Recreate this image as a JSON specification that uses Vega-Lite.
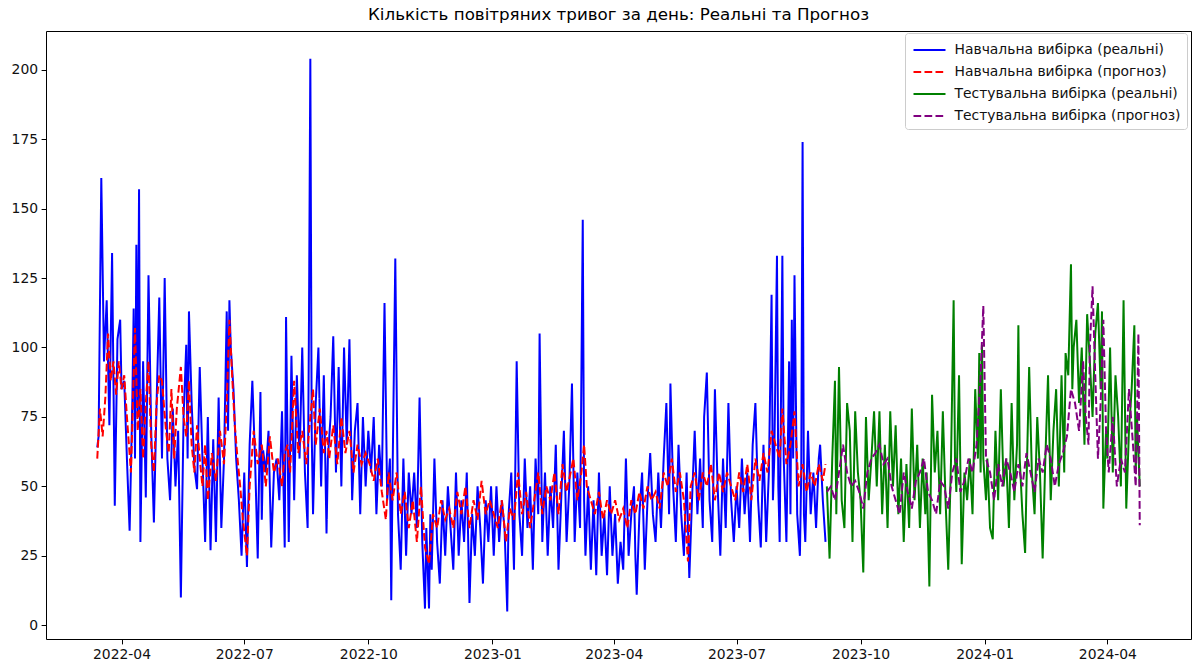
{
"$schema":"https://vega.github.io/schema/vega-lite/v6.json",
"width":1145,"height":608,
"autosize":{"type":"none"},
"padding":{"left":46,"top":31,"right":1,"bottom":27},
"title":{"text":"Кількість повітряних тривог за день: Реальні та Прогноз","font":"DejaVu Sans","fontSize":16.7,"fontWeight":"normal","color":"#000","anchor":"middle","offset":7},
"config":{"view":{"stroke":"#000","strokeWidth":1},
"axis":{"labelFont":"DejaVu Sans","labelFontSize":13.9,"labelColor":"#111","tickColor":"#000","tickSize":4.9,"tickWidth":1,"domain":false,"grid":false,"labelPadding":3.5,"title":null},
"legend":{"orient":"none","legendX":859,"legendY":2,"title":null,"symbolType":"M-1.6,0H1.6","symbolSize":400,"symbolStrokeWidth":2,"symbolOffset":7.5,"labelOffset":14,"labelLimit":400,"labelFont":"DejaVu Sans","labelFontSize":13.9,"labelColor":"#111","padding":6,"strokeColor":"#cccccc","fillColor":"#ffffff","cornerRadius":3,"rowPadding":4}},
"data":{"values":[
{"d":"2022-03-14","v":64,"s":"A"},{"d":"2022-03-15","v":68,"s":"A"},{"d":"2022-03-17","v":161,"s":"A"},{"d":"2022-03-19","v":95,"s":"A"},{"d":"2022-03-21","v":117,"s":"A"},{"d":"2022-03-23","v":72,"s":"A"},{"d":"2022-03-25","v":134,"s":"A"},{"d":"2022-03-27","v":43,"s":"A"},{"d":"2022-03-29","v":103,"s":"A"},{"d":"2022-03-31","v":110,"s":"A"},
{"d":"2022-04-01","v":85,"s":"A"},{"d":"2022-04-03","v":88,"s":"A"},{"d":"2022-04-05","v":60,"s":"A"},{"d":"2022-04-07","v":34,"s":"A"},{"d":"2022-04-09","v":80,"s":"A"},{"d":"2022-04-10","v":114,"s":"A"},{"d":"2022-04-11","v":60,"s":"A"},{"d":"2022-04-12","v":137,"s":"A"},{"d":"2022-04-13","v":75,"s":"A"},{"d":"2022-04-14","v":157,"s":"A"},{"d":"2022-04-15","v":30,"s":"A"},{"d":"2022-04-17","v":95,"s":"A"},{"d":"2022-04-19","v":46,"s":"A"},{"d":"2022-04-21","v":126,"s":"A"},{"d":"2022-04-23","v":70,"s":"A"},{"d":"2022-04-25","v":37,"s":"A"},{"d":"2022-04-27","v":80,"s":"A"},{"d":"2022-04-29","v":118,"s":"A"},
{"d":"2022-05-01","v":60,"s":"A"},{"d":"2022-05-03","v":125,"s":"A"},{"d":"2022-05-05","v":60,"s":"A"},{"d":"2022-05-07","v":45,"s":"A"},{"d":"2022-05-09","v":78,"s":"A"},{"d":"2022-05-11","v":50,"s":"A"},{"d":"2022-05-13","v":70,"s":"A"},{"d":"2022-05-15","v":10,"s":"A"},{"d":"2022-05-17","v":75,"s":"A"},{"d":"2022-05-19","v":101,"s":"A"},{"d":"2022-05-20","v":60,"s":"A"},{"d":"2022-05-21","v":113,"s":"A"},{"d":"2022-05-23","v":80,"s":"A"},{"d":"2022-05-25","v":57,"s":"A"},{"d":"2022-05-27","v":49,"s":"A"},{"d":"2022-05-29","v":93,"s":"A"},{"d":"2022-05-31","v":60,"s":"A"},
{"d":"2022-06-02","v":30,"s":"A"},{"d":"2022-06-04","v":75,"s":"A"},{"d":"2022-06-06","v":27,"s":"A"},{"d":"2022-06-08","v":67,"s":"A"},{"d":"2022-06-10","v":30,"s":"A"},{"d":"2022-06-12","v":82,"s":"A"},{"d":"2022-06-14","v":35,"s":"A"},{"d":"2022-06-16","v":60,"s":"A"},{"d":"2022-06-18","v":113,"s":"A"},{"d":"2022-06-19","v":70,"s":"A"},{"d":"2022-06-20","v":117,"s":"A"},{"d":"2022-06-21","v":100,"s":"A"},{"d":"2022-06-23","v":85,"s":"A"},{"d":"2022-06-25","v":60,"s":"A"},{"d":"2022-06-27","v":45,"s":"A"},{"d":"2022-06-29","v":25,"s":"A"},
{"d":"2022-07-01","v":55,"s":"A"},{"d":"2022-07-03","v":21,"s":"A"},{"d":"2022-07-05","v":65,"s":"A"},{"d":"2022-07-07","v":88,"s":"A"},{"d":"2022-07-09","v":60,"s":"A"},{"d":"2022-07-11","v":24,"s":"A"},{"d":"2022-07-13","v":84,"s":"A"},{"d":"2022-07-14","v":38,"s":"A"},{"d":"2022-07-15","v":63,"s":"A"},{"d":"2022-07-17","v":55,"s":"A"},{"d":"2022-07-19","v":70,"s":"A"},{"d":"2022-07-21","v":28,"s":"A"},{"d":"2022-07-23","v":55,"s":"A"},{"d":"2022-07-25","v":60,"s":"A"},{"d":"2022-07-27","v":45,"s":"A"},{"d":"2022-07-29","v":77,"s":"A"},{"d":"2022-07-31","v":28,"s":"A"},
{"d":"2022-08-01","v":111,"s":"A"},{"d":"2022-08-03","v":30,"s":"A"},{"d":"2022-08-05","v":97,"s":"A"},{"d":"2022-08-07","v":45,"s":"A"},{"d":"2022-08-09","v":90,"s":"A"},{"d":"2022-08-11","v":60,"s":"A"},{"d":"2022-08-13","v":100,"s":"A"},{"d":"2022-08-15","v":55,"s":"A"},{"d":"2022-08-17","v":35,"s":"A"},{"d":"2022-08-18","v":110,"s":"A"},{"d":"2022-08-19","v":204,"s":"A"},{"d":"2022-08-20","v":70,"s":"A"},{"d":"2022-08-21","v":40,"s":"A"},{"d":"2022-08-23","v":80,"s":"A"},{"d":"2022-08-25","v":100,"s":"A"},{"d":"2022-08-27","v":50,"s":"A"},{"d":"2022-08-29","v":90,"s":"A"},{"d":"2022-08-31","v":33,"s":"A"},
{"d":"2022-09-01","v":60,"s":"A"},{"d":"2022-09-03","v":75,"s":"A"},{"d":"2022-09-05","v":104,"s":"A"},{"d":"2022-09-07","v":55,"s":"A"},{"d":"2022-09-09","v":93,"s":"A"},{"d":"2022-09-11","v":50,"s":"A"},{"d":"2022-09-13","v":100,"s":"A"},{"d":"2022-09-15","v":65,"s":"A"},{"d":"2022-09-17","v":103,"s":"A"},{"d":"2022-09-19","v":45,"s":"A"},{"d":"2022-09-21","v":70,"s":"A"},{"d":"2022-09-23","v":80,"s":"A"},{"d":"2022-09-25","v":40,"s":"A"},{"d":"2022-09-27","v":75,"s":"A"},{"d":"2022-09-29","v":50,"s":"A"},
{"d":"2022-10-01","v":70,"s":"A"},{"d":"2022-10-03","v":55,"s":"A"},{"d":"2022-10-05","v":75,"s":"A"},{"d":"2022-10-07","v":40,"s":"A"},{"d":"2022-10-09","v":65,"s":"A"},{"d":"2022-10-11","v":50,"s":"A"},{"d":"2022-10-13","v":116,"s":"A"},{"d":"2022-10-15","v":45,"s":"A"},{"d":"2022-10-17","v":60,"s":"A"},{"d":"2022-10-18","v":9,"s":"A"},{"d":"2022-10-19","v":55,"s":"A"},{"d":"2022-10-21","v":132,"s":"A"},{"d":"2022-10-23","v":40,"s":"A"},{"d":"2022-10-25","v":20,"s":"A"},{"d":"2022-10-27","v":60,"s":"A"},{"d":"2022-10-29","v":25,"s":"A"},{"d":"2022-10-31","v":55,"s":"A"},
{"d":"2022-11-02","v":40,"s":"A"},{"d":"2022-11-04","v":55,"s":"A"},{"d":"2022-11-06","v":35,"s":"A"},{"d":"2022-11-08","v":82,"s":"A"},{"d":"2022-11-10","v":30,"s":"A"},{"d":"2022-11-12","v":6,"s":"A"},{"d":"2022-11-13","v":35,"s":"A"},{"d":"2022-11-15","v":6,"s":"A"},{"d":"2022-11-16","v":40,"s":"A"},{"d":"2022-11-17","v":20,"s":"A"},{"d":"2022-11-19","v":60,"s":"A"},{"d":"2022-11-21","v":30,"s":"A"},{"d":"2022-11-23","v":15,"s":"A"},{"d":"2022-11-25","v":45,"s":"A"},{"d":"2022-11-27","v":25,"s":"A"},{"d":"2022-11-29","v":50,"s":"A"},
{"d":"2022-12-01","v":35,"s":"A"},{"d":"2022-12-03","v":20,"s":"A"},{"d":"2022-12-05","v":55,"s":"A"},{"d":"2022-12-07","v":25,"s":"A"},{"d":"2022-12-09","v":45,"s":"A"},{"d":"2022-12-11","v":30,"s":"A"},{"d":"2022-12-13","v":55,"s":"A"},{"d":"2022-12-15","v":8,"s":"A"},{"d":"2022-12-17","v":40,"s":"A"},{"d":"2022-12-19","v":25,"s":"A"},{"d":"2022-12-21","v":50,"s":"A"},{"d":"2022-12-23","v":35,"s":"A"},{"d":"2022-12-25","v":15,"s":"A"},{"d":"2022-12-27","v":45,"s":"A"},{"d":"2022-12-29","v":30,"s":"A"},{"d":"2022-12-31","v":50,"s":"A"},
{"d":"2023-01-02","v":25,"s":"A"},{"d":"2023-01-04","v":50,"s":"A"},{"d":"2023-01-06","v":30,"s":"A"},{"d":"2023-01-08","v":45,"s":"A"},{"d":"2023-01-10","v":35,"s":"A"},{"d":"2023-01-12","v":5,"s":"A"},{"d":"2023-01-13","v":40,"s":"A"},{"d":"2023-01-15","v":55,"s":"A"},{"d":"2023-01-17","v":20,"s":"A"},{"d":"2023-01-19","v":95,"s":"A"},{"d":"2023-01-21","v":40,"s":"A"},{"d":"2023-01-23","v":25,"s":"A"},{"d":"2023-01-25","v":60,"s":"A"},{"d":"2023-01-27","v":35,"s":"A"},{"d":"2023-01-29","v":50,"s":"A"},{"d":"2023-01-31","v":20,"s":"A"},
{"d":"2023-02-02","v":60,"s":"A"},{"d":"2023-02-04","v":40,"s":"A"},{"d":"2023-02-05","v":105,"s":"A"},{"d":"2023-02-07","v":30,"s":"A"},{"d":"2023-02-09","v":55,"s":"A"},{"d":"2023-02-11","v":25,"s":"A"},{"d":"2023-02-13","v":50,"s":"A"},{"d":"2023-02-15","v":35,"s":"A"},{"d":"2023-02-17","v":65,"s":"A"},{"d":"2023-02-19","v":20,"s":"A"},{"d":"2023-02-21","v":45,"s":"A"},{"d":"2023-02-23","v":70,"s":"A"},{"d":"2023-02-25","v":30,"s":"A"},{"d":"2023-02-27","v":50,"s":"A"},
{"d":"2023-03-01","v":87,"s":"A"},{"d":"2023-03-03","v":30,"s":"A"},{"d":"2023-03-05","v":55,"s":"A"},{"d":"2023-03-07","v":35,"s":"A"},{"d":"2023-03-09","v":146,"s":"A"},{"d":"2023-03-10","v":45,"s":"A"},{"d":"2023-03-11","v":25,"s":"A"},{"d":"2023-03-13","v":50,"s":"A"},{"d":"2023-03-15","v":20,"s":"A"},{"d":"2023-03-17","v":45,"s":"A"},{"d":"2023-03-19","v":18,"s":"A"},{"d":"2023-03-21","v":55,"s":"A"},{"d":"2023-03-23","v":25,"s":"A"},{"d":"2023-03-25","v":40,"s":"A"},{"d":"2023-03-27","v":18,"s":"A"},{"d":"2023-03-29","v":50,"s":"A"},{"d":"2023-03-31","v":25,"s":"A"},
{"d":"2023-04-02","v":40,"s":"A"},{"d":"2023-04-04","v":15,"s":"A"},{"d":"2023-04-06","v":30,"s":"A"},{"d":"2023-04-08","v":20,"s":"A"},{"d":"2023-04-10","v":60,"s":"A"},{"d":"2023-04-12","v":25,"s":"A"},{"d":"2023-04-14","v":40,"s":"A"},{"d":"2023-04-16","v":50,"s":"A"},{"d":"2023-04-17","v":25,"s":"A"},{"d":"2023-04-18","v":11,"s":"A"},{"d":"2023-04-20","v":40,"s":"A"},{"d":"2023-04-22","v":55,"s":"A"},{"d":"2023-04-24","v":20,"s":"A"},{"d":"2023-04-26","v":45,"s":"A"},{"d":"2023-04-28","v":62,"s":"A"},{"d":"2023-04-30","v":40,"s":"A"},
{"d":"2023-05-02","v":30,"s":"A"},{"d":"2023-05-04","v":55,"s":"A"},{"d":"2023-05-06","v":35,"s":"A"},{"d":"2023-05-08","v":60,"s":"A"},{"d":"2023-05-10","v":80,"s":"A"},{"d":"2023-05-12","v":40,"s":"A"},{"d":"2023-05-13","v":87,"s":"A"},{"d":"2023-05-15","v":50,"s":"A"},{"d":"2023-05-17","v":30,"s":"A"},{"d":"2023-05-19","v":65,"s":"A"},{"d":"2023-05-21","v":40,"s":"A"},{"d":"2023-05-23","v":25,"s":"A"},{"d":"2023-05-25","v":55,"s":"A"},{"d":"2023-05-27","v":17,"s":"A"},{"d":"2023-05-29","v":45,"s":"A"},{"d":"2023-05-31","v":70,"s":"A"},
{"d":"2023-06-02","v":40,"s":"A"},{"d":"2023-06-04","v":60,"s":"A"},{"d":"2023-06-06","v":35,"s":"A"},{"d":"2023-06-07","v":75,"s":"A"},{"d":"2023-06-09","v":91,"s":"A"},{"d":"2023-06-11","v":45,"s":"A"},{"d":"2023-06-13","v":30,"s":"A"},{"d":"2023-06-15","v":85,"s":"A"},{"d":"2023-06-17","v":50,"s":"A"},{"d":"2023-06-19","v":25,"s":"A"},{"d":"2023-06-21","v":60,"s":"A"},{"d":"2023-06-23","v":35,"s":"A"},{"d":"2023-06-25","v":80,"s":"A"},{"d":"2023-06-27","v":45,"s":"A"},{"d":"2023-06-29","v":30,"s":"A"},
{"d":"2023-07-01","v":50,"s":"A"},{"d":"2023-07-03","v":35,"s":"A"},{"d":"2023-07-05","v":60,"s":"A"},{"d":"2023-07-07","v":40,"s":"A"},{"d":"2023-07-09","v":55,"s":"A"},{"d":"2023-07-11","v":30,"s":"A"},{"d":"2023-07-13","v":65,"s":"A"},{"d":"2023-07-15","v":80,"s":"A"},{"d":"2023-07-17","v":45,"s":"A"},{"d":"2023-07-19","v":28,"s":"A"},{"d":"2023-07-21","v":65,"s":"A"},{"d":"2023-07-23","v":30,"s":"A"},{"d":"2023-07-25","v":55,"s":"A"},{"d":"2023-07-27","v":119,"s":"A"},{"d":"2023-07-28","v":45,"s":"A"},{"d":"2023-07-29","v":60,"s":"A"},{"d":"2023-07-31","v":133,"s":"A"},
{"d":"2023-08-01","v":50,"s":"A"},{"d":"2023-08-02","v":30,"s":"A"},{"d":"2023-08-04","v":133,"s":"A"},{"d":"2023-08-05","v":60,"s":"A"},{"d":"2023-08-07","v":30,"s":"A"},{"d":"2023-08-09","v":95,"s":"A"},{"d":"2023-08-10","v":40,"s":"A"},{"d":"2023-08-11","v":110,"s":"A"},{"d":"2023-08-12","v":60,"s":"A"},{"d":"2023-08-13","v":126,"s":"A"},{"d":"2023-08-15","v":40,"s":"A"},{"d":"2023-08-17","v":25,"s":"A"},{"d":"2023-08-18","v":55,"s":"A"},{"d":"2023-08-19","v":174,"s":"A"},{"d":"2023-08-20","v":40,"s":"A"},{"d":"2023-08-21","v":30,"s":"A"},{"d":"2023-08-23","v":70,"s":"A"},{"d":"2023-08-25","v":40,"s":"A"},{"d":"2023-08-27","v":55,"s":"A"},{"d":"2023-08-29","v":35,"s":"A"},{"d":"2023-08-31","v":60,"s":"A"},
{"d":"2023-09-01","v":65,"s":"A"},{"d":"2023-09-03","v":45,"s":"A"},{"d":"2023-09-05","v":30,"s":"A"},

{"d":"2022-03-14","v":60,"s":"B"},{"d":"2022-03-16","v":78,"s":"B"},{"d":"2022-03-18","v":68,"s":"B"},{"d":"2022-03-20","v":82,"s":"B"},{"d":"2022-03-22","v":105,"s":"B"},{"d":"2022-03-24","v":88,"s":"B"},{"d":"2022-03-26","v":95,"s":"B"},{"d":"2022-03-28","v":83,"s":"B"},{"d":"2022-03-30","v":95,"s":"B"},
{"d":"2022-04-01","v":85,"s":"B"},{"d":"2022-04-03","v":90,"s":"B"},{"d":"2022-04-05","v":75,"s":"B"},{"d":"2022-04-08","v":55,"s":"B"},{"d":"2022-04-11","v":107,"s":"B"},{"d":"2022-04-13","v":70,"s":"B"},{"d":"2022-04-15","v":85,"s":"B"},{"d":"2022-04-17","v":60,"s":"B"},{"d":"2022-04-19","v":80,"s":"B"},{"d":"2022-04-21","v":95,"s":"B"},{"d":"2022-04-23","v":65,"s":"B"},{"d":"2022-04-25","v":55,"s":"B"},{"d":"2022-04-27","v":80,"s":"B"},{"d":"2022-04-29","v":90,"s":"B"},
{"d":"2022-05-01","v":88,"s":"B"},{"d":"2022-05-04","v":70,"s":"B"},{"d":"2022-05-06","v":62,"s":"B"},{"d":"2022-05-08","v":85,"s":"B"},{"d":"2022-05-10","v":60,"s":"B"},{"d":"2022-05-12","v":78,"s":"B"},{"d":"2022-05-15","v":93,"s":"B"},{"d":"2022-05-17","v":75,"s":"B"},{"d":"2022-05-19","v":68,"s":"B"},{"d":"2022-05-21","v":88,"s":"B"},{"d":"2022-05-23","v":65,"s":"B"},{"d":"2022-05-25","v":55,"s":"B"},{"d":"2022-05-27","v":72,"s":"B"},{"d":"2022-05-29","v":60,"s":"B"},{"d":"2022-05-31","v":50,"s":"B"},
{"d":"2022-06-02","v":65,"s":"B"},{"d":"2022-06-04","v":45,"s":"B"},{"d":"2022-06-07","v":62,"s":"B"},{"d":"2022-06-10","v":52,"s":"B"},{"d":"2022-06-13","v":70,"s":"B"},{"d":"2022-06-16","v":58,"s":"B"},{"d":"2022-06-18","v":80,"s":"B"},{"d":"2022-06-20","v":110,"s":"B"},{"d":"2022-06-22","v":90,"s":"B"},{"d":"2022-06-24","v":72,"s":"B"},{"d":"2022-06-26","v":60,"s":"B"},{"d":"2022-06-28","v":50,"s":"B"},{"d":"2022-06-30","v":38,"s":"B"},
{"d":"2022-07-03","v":25,"s":"B"},{"d":"2022-07-05","v":50,"s":"B"},{"d":"2022-07-08","v":70,"s":"B"},{"d":"2022-07-11","v":58,"s":"B"},{"d":"2022-07-14","v":65,"s":"B"},{"d":"2022-07-17","v":50,"s":"B"},{"d":"2022-07-20","v":68,"s":"B"},{"d":"2022-07-23","v":55,"s":"B"},{"d":"2022-07-26","v":60,"s":"B"},{"d":"2022-07-29","v":50,"s":"B"},{"d":"2022-07-31","v":62,"s":"B"},
{"d":"2022-08-02","v":65,"s":"B"},{"d":"2022-08-04","v":55,"s":"B"},{"d":"2022-08-07","v":88,"s":"B"},{"d":"2022-08-10","v":62,"s":"B"},{"d":"2022-08-13","v":70,"s":"B"},{"d":"2022-08-16","v":58,"s":"B"},{"d":"2022-08-19","v":75,"s":"B"},{"d":"2022-08-21","v":85,"s":"B"},{"d":"2022-08-23","v":65,"s":"B"},{"d":"2022-08-26","v":78,"s":"B"},{"d":"2022-08-29","v":62,"s":"B"},{"d":"2022-08-31","v":70,"s":"B"},
{"d":"2022-09-02","v":60,"s":"B"},{"d":"2022-09-05","v":72,"s":"B"},{"d":"2022-09-08","v":58,"s":"B"},{"d":"2022-09-11","v":75,"s":"B"},{"d":"2022-09-14","v":62,"s":"B"},{"d":"2022-09-17","v":70,"s":"B"},{"d":"2022-09-20","v":55,"s":"B"},{"d":"2022-09-23","v":65,"s":"B"},{"d":"2022-09-26","v":58,"s":"B"},{"d":"2022-09-29","v":62,"s":"B"},
{"d":"2022-10-02","v":58,"s":"B"},{"d":"2022-10-05","v":52,"s":"B"},{"d":"2022-10-08","v":60,"s":"B"},{"d":"2022-10-11","v":48,"s":"B"},{"d":"2022-10-14","v":38,"s":"B"},{"d":"2022-10-16","v":55,"s":"B"},{"d":"2022-10-19","v":45,"s":"B"},{"d":"2022-10-22","v":55,"s":"B"},{"d":"2022-10-25","v":40,"s":"B"},{"d":"2022-10-28","v":48,"s":"B"},{"d":"2022-10-31","v":35,"s":"B"},
{"d":"2022-11-03","v":45,"s":"B"},{"d":"2022-11-06","v":30,"s":"B"},{"d":"2022-11-09","v":50,"s":"B"},{"d":"2022-11-12","v":28,"s":"B"},{"d":"2022-11-15","v":22,"s":"B"},{"d":"2022-11-18","v":40,"s":"B"},{"d":"2022-11-21","v":35,"s":"B"},{"d":"2022-11-24","v":45,"s":"B"},{"d":"2022-11-27","v":38,"s":"B"},{"d":"2022-11-30","v":42,"s":"B"},
{"d":"2022-12-03","v":35,"s":"B"},{"d":"2022-12-06","v":48,"s":"B"},{"d":"2022-12-09","v":40,"s":"B"},{"d":"2022-12-12","v":50,"s":"B"},{"d":"2022-12-15","v":35,"s":"B"},{"d":"2022-12-18","v":45,"s":"B"},{"d":"2022-12-21","v":38,"s":"B"},{"d":"2022-12-24","v":52,"s":"B"},{"d":"2022-12-27","v":40,"s":"B"},{"d":"2022-12-30","v":45,"s":"B"},
{"d":"2023-01-02","v":40,"s":"B"},{"d":"2023-01-05","v":35,"s":"B"},{"d":"2023-01-08","v":45,"s":"B"},{"d":"2023-01-11","v":30,"s":"B"},{"d":"2023-01-14","v":42,"s":"B"},{"d":"2023-01-17","v":38,"s":"B"},{"d":"2023-01-20","v":55,"s":"B"},{"d":"2023-01-23","v":40,"s":"B"},{"d":"2023-01-26","v":48,"s":"B"},{"d":"2023-01-29","v":35,"s":"B"},
{"d":"2023-02-01","v":45,"s":"B"},{"d":"2023-02-04","v":55,"s":"B"},{"d":"2023-02-07","v":40,"s":"B"},{"d":"2023-02-10","v":50,"s":"B"},{"d":"2023-02-13","v":45,"s":"B"},{"d":"2023-02-16","v":55,"s":"B"},{"d":"2023-02-19","v":40,"s":"B"},{"d":"2023-02-22","v":58,"s":"B"},{"d":"2023-02-25","v":48,"s":"B"},{"d":"2023-02-28","v":55,"s":"B"},
{"d":"2023-03-02","v":60,"s":"B"},{"d":"2023-03-05","v":45,"s":"B"},{"d":"2023-03-08","v":55,"s":"B"},{"d":"2023-03-10","v":65,"s":"B"},{"d":"2023-03-12","v":50,"s":"B"},{"d":"2023-03-15","v":45,"s":"B"},{"d":"2023-03-18","v":40,"s":"B"},{"d":"2023-03-21","v":48,"s":"B"},{"d":"2023-03-24","v":38,"s":"B"},{"d":"2023-03-27","v":45,"s":"B"},{"d":"2023-03-30","v":40,"s":"B"},
{"d":"2023-04-02","v":45,"s":"B"},{"d":"2023-04-05","v":38,"s":"B"},{"d":"2023-04-08","v":42,"s":"B"},{"d":"2023-04-11","v":35,"s":"B"},{"d":"2023-04-14","v":45,"s":"B"},{"d":"2023-04-17","v":40,"s":"B"},{"d":"2023-04-20","v":48,"s":"B"},{"d":"2023-04-23","v":42,"s":"B"},{"d":"2023-04-26","v":50,"s":"B"},{"d":"2023-04-29","v":45,"s":"B"},
{"d":"2023-05-02","v":48,"s":"B"},{"d":"2023-05-05","v":42,"s":"B"},{"d":"2023-05-08","v":55,"s":"B"},{"d":"2023-05-11","v":50,"s":"B"},{"d":"2023-05-14","v":60,"s":"B"},{"d":"2023-05-17","v":48,"s":"B"},{"d":"2023-05-20","v":55,"s":"B"},{"d":"2023-05-23","v":45,"s":"B"},{"d":"2023-05-26","v":23,"s":"B"},{"d":"2023-05-28","v":50,"s":"B"},{"d":"2023-05-31","v":55,"s":"B"},
{"d":"2023-06-03","v":45,"s":"B"},{"d":"2023-06-06","v":55,"s":"B"},{"d":"2023-06-09","v":50,"s":"B"},{"d":"2023-06-12","v":58,"s":"B"},{"d":"2023-06-15","v":45,"s":"B"},{"d":"2023-06-18","v":55,"s":"B"},{"d":"2023-06-21","v":48,"s":"B"},{"d":"2023-06-24","v":55,"s":"B"},{"d":"2023-06-27","v":50,"s":"B"},{"d":"2023-06-30","v":45,"s":"B"},
{"d":"2023-07-03","v":55,"s":"B"},{"d":"2023-07-06","v":48,"s":"B"},{"d":"2023-07-09","v":58,"s":"B"},{"d":"2023-07-12","v":45,"s":"B"},{"d":"2023-07-15","v":60,"s":"B"},{"d":"2023-07-18","v":52,"s":"B"},{"d":"2023-07-21","v":62,"s":"B"},{"d":"2023-07-24","v":55,"s":"B"},{"d":"2023-07-27","v":70,"s":"B"},{"d":"2023-07-30","v":65,"s":"B"},
{"d":"2023-08-02","v":60,"s":"B"},{"d":"2023-08-04","v":78,"s":"B"},{"d":"2023-08-07","v":58,"s":"B"},{"d":"2023-08-10","v":65,"s":"B"},{"d":"2023-08-13","v":77,"s":"B"},{"d":"2023-08-16","v":50,"s":"B"},{"d":"2023-08-19","v":58,"s":"B"},{"d":"2023-08-22","v":48,"s":"B"},{"d":"2023-08-25","v":55,"s":"B"},{"d":"2023-08-28","v":50,"s":"B"},{"d":"2023-08-31","v":58,"s":"B"},
{"d":"2023-09-03","v":52,"s":"B"},{"d":"2023-09-05","v":58,"s":"B"},

{"d":"2023-09-06","v":50,"s":"C"},{"d":"2023-09-08","v":24,"s":"C"},{"d":"2023-09-10","v":60,"s":"C"},{"d":"2023-09-12","v":88,"s":"C"},{"d":"2023-09-13","v":40,"s":"C"},{"d":"2023-09-15","v":93,"s":"C"},{"d":"2023-09-17","v":45,"s":"C"},{"d":"2023-09-19","v":35,"s":"C"},{"d":"2023-09-21","v":80,"s":"C"},{"d":"2023-09-23","v":70,"s":"C"},{"d":"2023-09-25","v":30,"s":"C"},{"d":"2023-09-27","v":77,"s":"C"},{"d":"2023-09-29","v":55,"s":"C"},
{"d":"2023-10-01","v":45,"s":"C"},{"d":"2023-10-03","v":19,"s":"C"},{"d":"2023-10-05","v":75,"s":"C"},{"d":"2023-10-07","v":45,"s":"C"},{"d":"2023-10-09","v":60,"s":"C"},{"d":"2023-10-11","v":77,"s":"C"},{"d":"2023-10-13","v":50,"s":"C"},{"d":"2023-10-15","v":77,"s":"C"},{"d":"2023-10-17","v":40,"s":"C"},{"d":"2023-10-19","v":65,"s":"C"},{"d":"2023-10-21","v":35,"s":"C"},{"d":"2023-10-23","v":77,"s":"C"},{"d":"2023-10-25","v":50,"s":"C"},{"d":"2023-10-27","v":72,"s":"C"},{"d":"2023-10-29","v":40,"s":"C"},{"d":"2023-10-31","v":60,"s":"C"},
{"d":"2023-11-02","v":30,"s":"C"},{"d":"2023-11-04","v":58,"s":"C"},{"d":"2023-11-06","v":35,"s":"C"},{"d":"2023-11-08","v":78,"s":"C"},{"d":"2023-11-10","v":45,"s":"C"},{"d":"2023-11-12","v":65,"s":"C"},{"d":"2023-11-14","v":35,"s":"C"},{"d":"2023-11-16","v":60,"s":"C"},{"d":"2023-11-18","v":40,"s":"C"},{"d":"2023-11-19","v":55,"s":"C"},{"d":"2023-11-21","v":14,"s":"C"},{"d":"2023-11-23","v":83,"s":"C"},{"d":"2023-11-25","v":55,"s":"C"},{"d":"2023-11-27","v":70,"s":"C"},{"d":"2023-11-29","v":40,"s":"C"},
{"d":"2023-12-01","v":77,"s":"C"},{"d":"2023-12-03","v":45,"s":"C"},{"d":"2023-12-05","v":20,"s":"C"},{"d":"2023-12-07","v":58,"s":"C"},{"d":"2023-12-09","v":117,"s":"C"},{"d":"2023-12-10","v":60,"s":"C"},{"d":"2023-12-11","v":48,"s":"C"},{"d":"2023-12-13","v":90,"s":"C"},{"d":"2023-12-15","v":22,"s":"C"},{"d":"2023-12-17","v":55,"s":"C"},{"d":"2023-12-19","v":45,"s":"C"},{"d":"2023-12-21","v":60,"s":"C"},{"d":"2023-12-23","v":40,"s":"C"},{"d":"2023-12-25","v":85,"s":"C"},{"d":"2023-12-27","v":60,"s":"C"},{"d":"2023-12-28","v":98,"s":"C"},{"d":"2023-12-29","v":55,"s":"C"},{"d":"2023-12-30","v":101,"s":"C"},{"d":"2023-12-31","v":60,"s":"C"},
{"d":"2024-01-02","v":45,"s":"C"},{"d":"2024-01-03","v":60,"s":"C"},{"d":"2024-01-05","v":35,"s":"C"},{"d":"2024-01-07","v":31,"s":"C"},{"d":"2024-01-09","v":70,"s":"C"},{"d":"2024-01-11","v":45,"s":"C"},{"d":"2024-01-13","v":85,"s":"C"},{"d":"2024-01-15","v":50,"s":"C"},{"d":"2024-01-17","v":60,"s":"C"},{"d":"2024-01-19","v":35,"s":"C"},{"d":"2024-01-21","v":80,"s":"C"},{"d":"2024-01-23","v":45,"s":"C"},{"d":"2024-01-25","v":65,"s":"C"},{"d":"2024-01-26","v":108,"s":"C"},{"d":"2024-01-27","v":60,"s":"C"},{"d":"2024-01-29","v":40,"s":"C"},{"d":"2024-01-31","v":26,"s":"C"},
{"d":"2024-02-01","v":50,"s":"C"},{"d":"2024-02-03","v":93,"s":"C"},{"d":"2024-02-05","v":55,"s":"C"},{"d":"2024-02-07","v":40,"s":"C"},{"d":"2024-02-09","v":75,"s":"C"},{"d":"2024-02-11","v":55,"s":"C"},{"d":"2024-02-13","v":24,"s":"C"},{"d":"2024-02-15","v":60,"s":"C"},{"d":"2024-02-17","v":90,"s":"C"},{"d":"2024-02-19","v":45,"s":"C"},{"d":"2024-02-21","v":70,"s":"C"},{"d":"2024-02-23","v":85,"s":"C"},{"d":"2024-02-25","v":50,"s":"C"},{"d":"2024-02-27","v":90,"s":"C"},{"d":"2024-02-29","v":55,"s":"C"},
{"d":"2024-03-01","v":98,"s":"C"},{"d":"2024-03-03","v":90,"s":"C"},{"d":"2024-03-05","v":130,"s":"C"},{"d":"2024-03-06","v":85,"s":"C"},{"d":"2024-03-07","v":100,"s":"C"},{"d":"2024-03-09","v":110,"s":"C"},{"d":"2024-03-11","v":80,"s":"C"},{"d":"2024-03-13","v":100,"s":"C"},{"d":"2024-03-15","v":65,"s":"C"},{"d":"2024-03-17","v":112,"s":"C"},{"d":"2024-03-19","v":95,"s":"C"},{"d":"2024-03-21","v":75,"s":"C"},{"d":"2024-03-23","v":105,"s":"C"},{"d":"2024-03-25","v":116,"s":"C"},{"d":"2024-03-27","v":85,"s":"C"},{"d":"2024-03-28","v":113,"s":"C"},{"d":"2024-03-29","v":42,"s":"C"},{"d":"2024-03-31","v":70,"s":"C"},
{"d":"2024-04-01","v":60,"s":"C"},{"d":"2024-04-03","v":100,"s":"C"},{"d":"2024-04-05","v":55,"s":"C"},{"d":"2024-04-07","v":90,"s":"C"},{"d":"2024-04-09","v":75,"s":"C"},{"d":"2024-04-11","v":50,"s":"C"},{"d":"2024-04-13","v":117,"s":"C"},{"d":"2024-04-15","v":42,"s":"C"},{"d":"2024-04-17","v":70,"s":"C"},{"d":"2024-04-19","v":85,"s":"C"},{"d":"2024-04-21","v":108,"s":"C"},{"d":"2024-04-22","v":55,"s":"C"},{"d":"2024-04-23","v":75,"s":"C"},{"d":"2024-04-25","v":50,"s":"C"},

{"d":"2023-09-06","v":48,"s":"D"},{"d":"2023-09-09","v":50,"s":"D"},{"d":"2023-09-12","v":45,"s":"D"},{"d":"2023-09-15","v":55,"s":"D"},{"d":"2023-09-18","v":65,"s":"D"},{"d":"2023-09-21","v":55,"s":"D"},{"d":"2023-09-24","v":50,"s":"D"},{"d":"2023-09-27","v":52,"s":"D"},{"d":"2023-09-30","v":48,"s":"D"},
{"d":"2023-10-03","v":42,"s":"D"},{"d":"2023-10-06","v":55,"s":"D"},{"d":"2023-10-09","v":60,"s":"D"},{"d":"2023-10-12","v":62,"s":"D"},{"d":"2023-10-15","v":65,"s":"D"},{"d":"2023-10-18","v":58,"s":"D"},{"d":"2023-10-21","v":60,"s":"D"},{"d":"2023-10-24","v":50,"s":"D"},{"d":"2023-10-27","v":45,"s":"D"},{"d":"2023-10-30","v":40,"s":"D"},
{"d":"2023-11-02","v":55,"s":"D"},{"d":"2023-11-05","v":48,"s":"D"},{"d":"2023-11-08","v":42,"s":"D"},{"d":"2023-11-11","v":52,"s":"D"},{"d":"2023-11-14","v":55,"s":"D"},{"d":"2023-11-17","v":60,"s":"D"},{"d":"2023-11-20","v":48,"s":"D"},{"d":"2023-11-23","v":45,"s":"D"},{"d":"2023-11-26","v":40,"s":"D"},{"d":"2023-11-29","v":52,"s":"D"},
{"d":"2023-12-02","v":50,"s":"D"},{"d":"2023-12-05","v":42,"s":"D"},{"d":"2023-12-08","v":55,"s":"D"},{"d":"2023-12-11","v":60,"s":"D"},{"d":"2023-12-14","v":48,"s":"D"},{"d":"2023-12-17","v":52,"s":"D"},{"d":"2023-12-20","v":60,"s":"D"},{"d":"2023-12-23","v":55,"s":"D"},{"d":"2023-12-26","v":65,"s":"D"},{"d":"2023-12-29","v":90,"s":"D"},{"d":"2023-12-31","v":115,"s":"D"},
{"d":"2024-01-02","v":60,"s":"D"},{"d":"2024-01-05","v":55,"s":"D"},{"d":"2024-01-08","v":45,"s":"D"},{"d":"2024-01-11","v":58,"s":"D"},{"d":"2024-01-14","v":50,"s":"D"},{"d":"2024-01-17","v":60,"s":"D"},{"d":"2024-01-20","v":55,"s":"D"},{"d":"2024-01-23","v":48,"s":"D"},{"d":"2024-01-26","v":58,"s":"D"},{"d":"2024-01-29","v":50,"s":"D"},
{"d":"2024-02-01","v":62,"s":"D"},{"d":"2024-02-04","v":55,"s":"D"},{"d":"2024-02-07","v":48,"s":"D"},{"d":"2024-02-10","v":60,"s":"D"},{"d":"2024-02-13","v":55,"s":"D"},{"d":"2024-02-16","v":65,"s":"D"},{"d":"2024-02-19","v":60,"s":"D"},{"d":"2024-02-22","v":50,"s":"D"},{"d":"2024-02-25","v":58,"s":"D"},{"d":"2024-02-28","v":62,"s":"D"},
{"d":"2024-03-02","v":68,"s":"D"},{"d":"2024-03-05","v":85,"s":"D"},{"d":"2024-03-08","v":80,"s":"D"},{"d":"2024-03-11","v":70,"s":"D"},{"d":"2024-03-14","v":95,"s":"D"},{"d":"2024-03-16","v":75,"s":"D"},{"d":"2024-03-18","v":65,"s":"D"},{"d":"2024-03-19","v":100,"s":"D"},{"d":"2024-03-21","v":122,"s":"D"},{"d":"2024-03-23","v":90,"s":"D"},{"d":"2024-03-25","v":60,"s":"D"},{"d":"2024-03-27","v":80,"s":"D"},{"d":"2024-03-29","v":110,"s":"D"},{"d":"2024-03-31","v":70,"s":"D"},
{"d":"2024-04-02","v":55,"s":"D"},{"d":"2024-04-05","v":75,"s":"D"},{"d":"2024-04-08","v":50,"s":"D"},{"d":"2024-04-11","v":60,"s":"D"},{"d":"2024-04-14","v":55,"s":"D"},{"d":"2024-04-17","v":85,"s":"D"},{"d":"2024-04-20","v":65,"s":"D"},{"d":"2024-04-22","v":50,"s":"D"},{"d":"2024-04-23","v":75,"s":"D"},{"d":"2024-04-24","v":105,"s":"D"},{"d":"2024-04-25","v":36,"s":"D"}
]},
"encoding":{
"x":{"field":"d","type":"temporal","scale":{"type":"utc","domain":[{"year":2022,"month":2,"date":4,"utc":true},{"year":2024,"month":6,"date":2,"utc":true}]},
"axis":{"format":"%Y-%m","labelFlush":false,"labelOverlap":false,"values":[{"year":2022,"month":4,"date":1,"utc":true},{"year":2022,"month":7,"date":1,"utc":true},{"year":2022,"month":10,"date":1,"utc":true},{"year":2023,"month":1,"date":1,"utc":true},{"year":2023,"month":4,"date":1,"utc":true},{"year":2023,"month":7,"date":1,"utc":true},{"year":2023,"month":10,"date":1,"utc":true},{"year":2024,"month":1,"date":1,"utc":true},{"year":2024,"month":4,"date":1,"utc":true}]}},
"y":{"field":"v","type":"quantitative","scale":{"domain":[-4.95,213.95],"nice":false,"zero":false},"axis":{"values":[0,25,50,75,100,125,150,175,200]}},
"color":{"field":"s","type":"nominal","scale":{"domain":["A","B","C","D"],"range":["#0000ff","#ff0000","#008000","#800080"]},
"legend":{"labelExpr":"datum.label=='A'?'Навчальна вибірка (реальні)':datum.label=='B'?'Навчальна вибірка (прогноз)':datum.label=='C'?'Тестувальна вибірка (реальні)':'Тестувальна вибірка (прогноз)'"}},
"strokeDash":{"field":"s","type":"nominal","scale":{"domain":["A","B","C","D"],"range":[[1,0],[7.7,3.3],[1,0],[7.7,3.3]]},
"legend":{"labelExpr":"datum.label=='A'?'Навчальна вибірка (реальні)':datum.label=='B'?'Навчальна вибірка (прогноз)':datum.label=='C'?'Тестувальна вибірка (реальні)':'Тестувальна вибірка (прогноз)'"}}
},
"layer":[
{"transform":[{"filter":"datum.s=='A'"}],"mark":{"type":"line","strokeWidth":2}},
{"transform":[{"filter":"datum.s=='B'"}],"mark":{"type":"line","strokeWidth":2}},
{"transform":[{"filter":"datum.s=='C'"}],"mark":{"type":"line","strokeWidth":2}},
{"transform":[{"filter":"datum.s=='D'"}],"mark":{"type":"line","strokeWidth":2}}
]
}
